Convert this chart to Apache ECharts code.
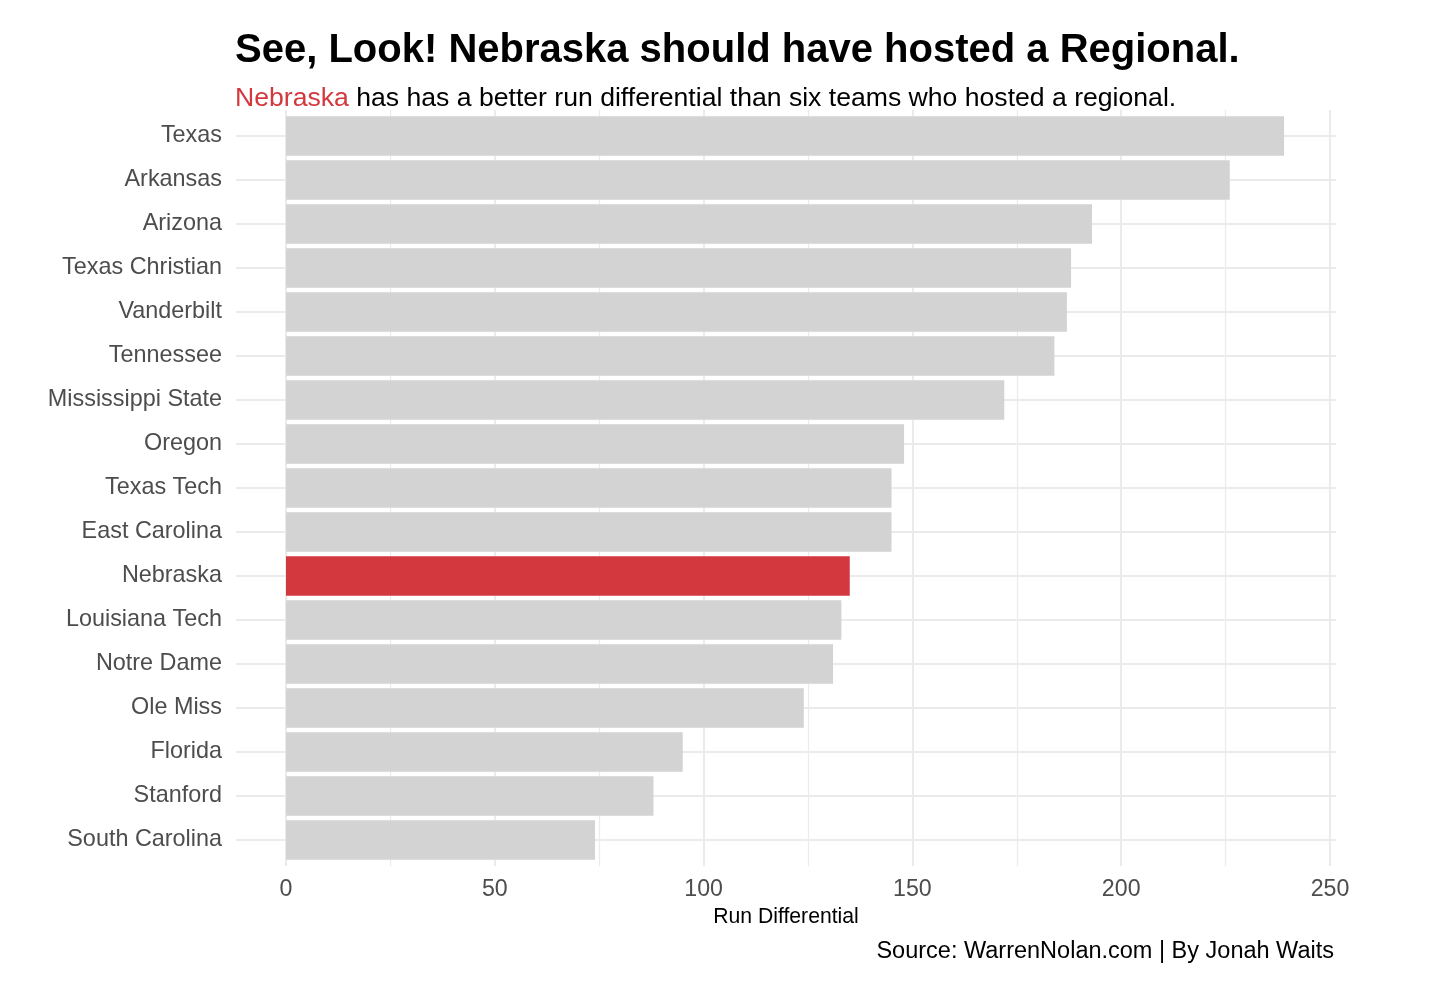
<!DOCTYPE html>
<html>
<head>
<meta charset="utf-8">
<script src="https://cdn.jsdelivr.net/npm/echarts@6/dist/echarts.min.js"></script>
<style>
html,body{margin:0;padding:0;background:#fff;}
#chart{width:1446px;height:1000px;}
</style>
</head>
<body>
<div id="chart"></div>
<script>
const teams = ["Texas","Arkansas","Arizona","Texas Christian","Vanderbilt","Tennessee","Mississippi State","Oregon","Texas Tech","East Carolina","Nebraska","Louisiana Tech","Notre Dame","Ole Miss","Florida","Stanford","South Carolina"];
const runDiff = [239,226,193,188,187,184,172,148,145,145,135,133,131,124,95,88,74];
const highlightTeam = "Nebraska";
const xTicks = [0,50,100,150,200,250];

const FONT = "'Liberation Sans', Arial, Helvetica, sans-serif";
const GREY_BAR = "#D3D3D3";
const RED = "#D3383F";
const GRID_COL = "#EBEBEB";

const chart = echarts.init(document.getElementById('chart'), null, {renderer:'canvas'});

const barData = runDiff.map((v,i)=>({
  value: v,
  itemStyle: {color: teams[i]===highlightTeam ? RED : GREY_BAR}
}));

chart.setOption({
  backgroundColor:'#ffffff',
  animation:false,
  textStyle:{fontFamily:FONT},
  title:[
    {text:"See, Look! Nebraska should have hosted a Regional.", left:235, top:31, padding:0,
     textStyle:{fontFamily:FONT,fontSize:40,fontWeight:'bold',color:'#000'}},
    {text:"{r|Nebraska} {k|has has a better run differential than six teams who hosted a regional.}", left:235, top:85, padding:0,
     textStyle:{fontFamily:FONT,fontSize:26.6,fontWeight:'normal',rich:{
       r:{fontFamily:FONT,fontSize:26.6,fontWeight:'normal',color:RED},
       k:{fontFamily:FONT,fontSize:26.6,fontWeight:'normal',color:'#000'}}}},
    {text:"Source: WarrenNolan.com | By Jonah Waits", right:112, top:940, padding:0,
     textStyle:{fontFamily:FONT,fontSize:23.5,fontWeight:'normal',color:'#000'}}
  ],
  grid:[
    {left:286, right:116, top:110, bottom:134},
    {left:286, right:116, top:114, bottom:138},
    {left:236, right:110, top:136, bottom:160}
  ],
  xAxis:[
    {gridIndex:0, type:'value', min:xTicks[0], max:xTicks[xTicks.length-1], interval:50,
     axisLine:{show:false}, axisTick:{show:false},
     axisLabel:{fontFamily:FONT,fontSize:23.2,color:'#4D4D4D',margin:12},
     splitLine:{show:true,lineStyle:{color:GRID_COL,width:2}},
     minorTick:{show:false,splitNumber:2},
     minorSplitLine:{show:true,lineStyle:{color:GRID_COL,width:1.2}}},
    {gridIndex:1, type:'value', min:xTicks[0], max:xTicks[xTicks.length-1], show:false},
    {gridIndex:2, type:'value', min:0, max:1,
     axisLine:{show:false}, axisTick:{show:false}, axisLabel:{show:false}, splitLine:{show:false},
     name:"Run Differential", nameLocation:'middle', nameGap:67,
     nameTextStyle:{fontFamily:FONT,fontSize:21.2,color:'#000'}}
  ],
  yAxis:[
    {gridIndex:0, type:'value', show:false},
    {gridIndex:1, type:'category', inverse:true, data:teams, show:false},
    {gridIndex:2, type:'category', inverse:true, data:teams, boundaryGap:false,
     axisLine:{show:false}, axisTick:{show:false},
     axisLabel:{fontFamily:FONT,fontSize:23.4,color:'#4D4D4D',margin:14,padding:[4,0,0,0]},
     splitLine:{show:true,lineStyle:{color:GRID_COL,width:2}}}
  ],
  series:[
    {type:'bar', xAxisIndex:1, yAxisIndex:1, data:barData, barCategoryGap:'10%', z:3}
  ]
});
</script>
</body>
</html>
